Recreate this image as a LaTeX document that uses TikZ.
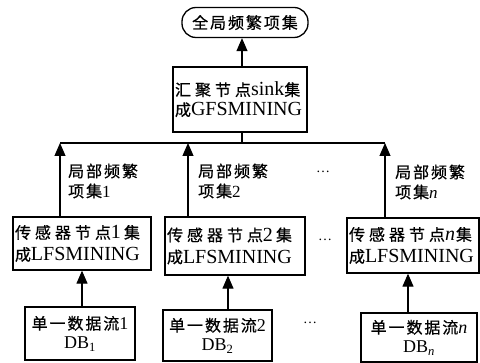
\documentclass[tikz,border=0pt]{standalone}
\usepackage{fontspec}
\setmainfont{Liberation Serif}
\newfontfamily\cjkA[LetterSpace=25,FakeBold=0.6]{Noto Sans CJK SC}
\newfontfamily\cjkB[LetterSpace=12,FakeBold=0.6]{Noto Sans CJK SC}
\newcommand\cnA[1]{{\cjkA\fontsize{16}{18}\selectfont #1}}
\newcommand\cnB[1]{{\cjkB\fontsize{16}{18}\selectfont #1}}
\usetikzlibrary{arrows.meta}
\begin{document}
\begin{tikzpicture}[x=1pt,y=-1pt,
  box/.style={draw, line width=1.3pt, inner xsep=2pt, inner ysep=0pt, align=left},
  lbox/.style={box, font=\fontsize{20}{22}\selectfont},
  dbox/.style={box, align=center, font=\fontsize{18}{19}\selectfont},
  lab/.style={anchor=west, inner sep=0pt, align=left, font=\fontsize{17}{20}\selectfont},
  dots/.style={inner sep=0pt, font=\fontsize{14}{16}\selectfont},
  arr/.style={line width=1.1pt, -{Triangle[length=13pt,width=11pt]}},
  ln/.style={line width=1.1pt}]
\useasboundingbox (0,0) rectangle (480,363);
% top result
\node[draw, line width=1.3pt, rounded corners=14pt, minimum width=126pt, minimum height=30pt, inner sep=0pt] (O) at (245,22.5) {\cnB{全局频繁项集}};
% sink
\node[lbox, minimum width=134pt, text width=130pt, minimum height=65pt, font=\fontsize{20}{20}\selectfont] (S) at (240,99.5)
  {\cnA{汇聚节点}sink\cnA{集}\\\cnA{成}GFSMINING};
% local nodes
\node[lbox, minimum width=138pt, text width=134pt, minimum height=53pt] (L1) at (82,243.5)
  {\cnA{传感器节点}1\hspace{3pt}\cnA{集}\\\cnA{成}LFSMINING};
\node[lbox, minimum width=140pt, text width=136pt, minimum height=58pt] (L2) at (235,246)
  {\cnA{传感器节点}2\hspace{3pt}\cnA{集}\\\cnA{成}LFSMINING};
\node[lbox, minimum width=132pt, text width=128pt, minimum height=55pt] (Ln) at (413,245.5)
  {\cnA{传感器节点}\textit{n}\hspace{1pt}\cnA{集}\\\cnA{成}LFSMINING};
% data streams
\node[dbox, minimum width=110pt, minimum height=53pt] (D1) at (80,333.5)
  {\cnB{单一数据流}1\\DB\textsubscript{1}};
\node[dbox, minimum width=109pt, minimum height=51pt] (D2) at (217.5,335.5)
  {\cnB{单一数据流}2\\DB\textsubscript{2}};
\node[dbox, minimum width=116pt, minimum height=49pt] (Dn) at (419,337.5)
  {\cnB{单一数据流}\textit{n}\\DB\textsubscript{\textit{n}}};
% coordinates
\coordinate (ta) at (242,0);
\coordinate (b1) at (60,143);
\coordinate (b2) at (188,143);
\coordinate (bs) at (242,143);
\coordinate (bn) at (385,143);
\coordinate (x1) at (82,0);
\coordinate (x2) at (228,0);
\coordinate (xn) at (408,0);
% connectors
\draw[arr] (S.north -| ta) -- (O.south -| ta);
\draw[ln] (S.south -| bs) -- (bs);
\draw[ln] (b1) -- (bn);
\draw[arr] (L1.north -| b1) -- (b1);
\draw[arr] (L2.north -| b2) -- (b2);
\draw[arr] (Ln.north -| bn) -- (bn);
\draw[arr] (D1.north -| x1) -- (L1.south -| x1);
\draw[arr] (D2.north -| x2) -- (L2.south -| x2);
\draw[arr] (Dn.north -| xn) -- (Ln.south -| xn);
% labels
\node[lab] (la1) at (68,181) {\cnB{局部频繁}\\\cnB{项集}1};
\node[lab] (la2) at (198,181) {\cnB{局部频繁}\\\cnB{项集}2};
\node[lab] (lan) at (395,182) {\cnB{局部频繁}\\\cnB{项集}\textit{n}};
% ellipses
\node[dots] (e1) at (323,172) {\ldots};
\node[dots] (e2) at (325,240) {\ldots};
\node[dots] (e3) at (310,323) {\ldots};
\end{tikzpicture}
\end{document}
